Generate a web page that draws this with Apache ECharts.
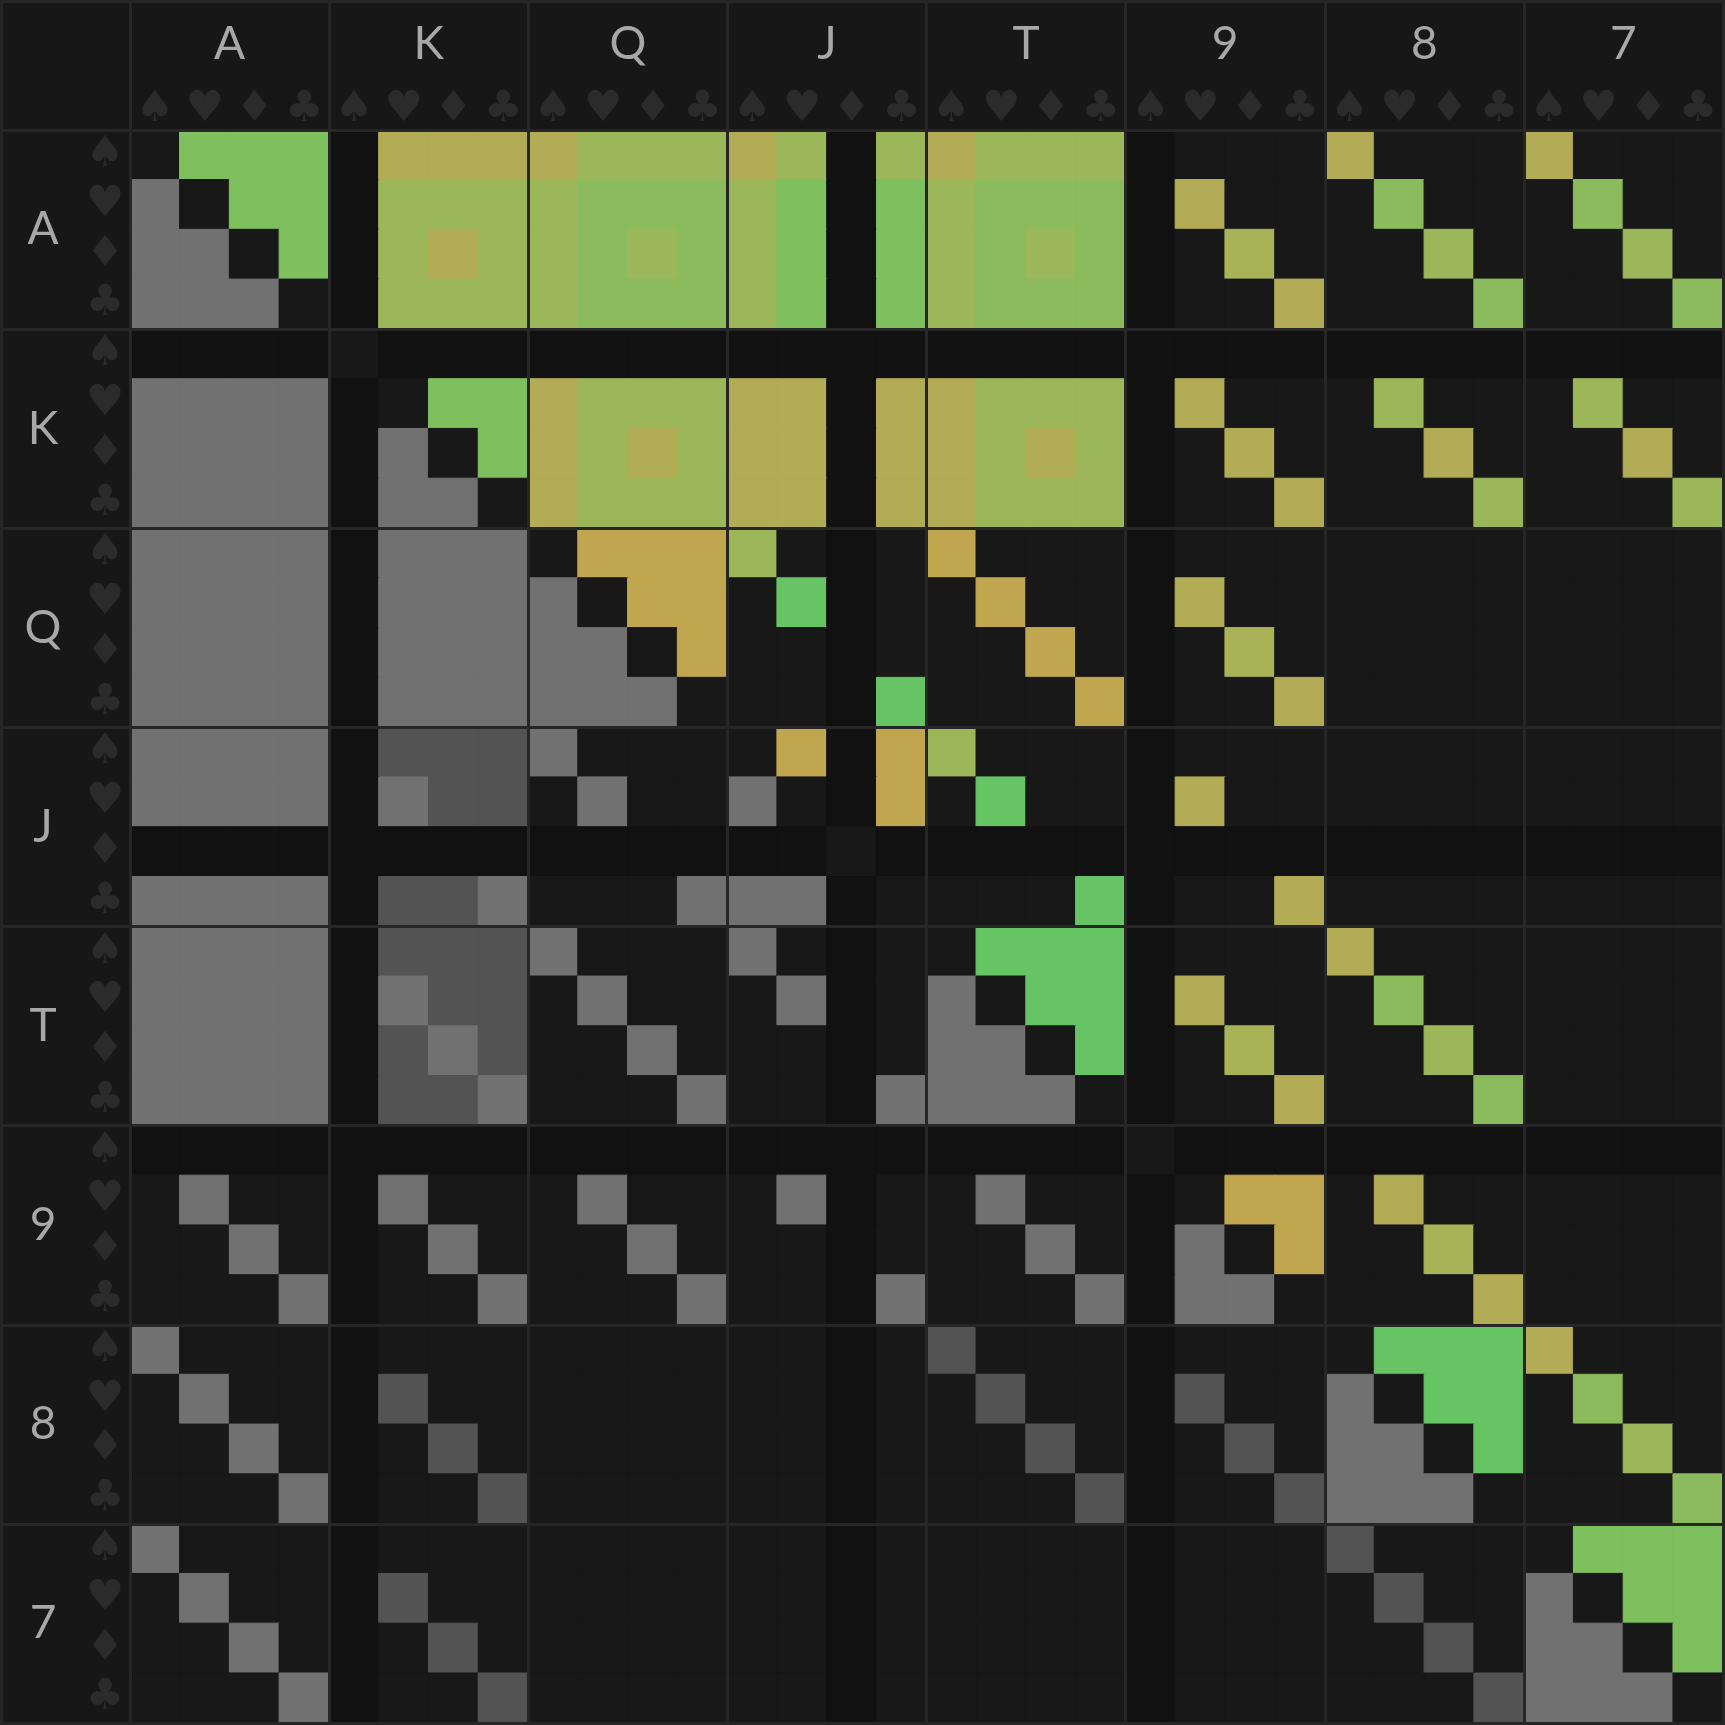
<!DOCTYPE html>
<html><head><meta charset="utf-8">
<script src="https://cdn.jsdelivr.net/npm/echarts@6/dist/echarts.min.js"></script>
<style>html,body{margin:0;padding:0;background:#171717}#chart{width:1725px;height:1725px}</style>
</head><body><div id="chart"></div>
<script>
// Axis labels
const ranks = ['A','K','Q','J','T','9','8','7'];
const suits = ['♠','♥','♦','♣'];

// Cell classes, one string per hole-card row (columns A♠..7♣, grouped by rank)
// . empty/same card, x blocked card, L grey, D dark grey, Y olive, P olive-green,
// G yellow-green, M mid green, E green, B bright green, O gold
const classKeys = ['.','x','L','D','Y','P','G','M','E','B','O'];
const rowsA = [
  '.EEE xYYY YGGG YGxG YGGG x... Y... Y...',
  'L.EE xGGG GMMM GExE GMMM xY.. .M.. .M..',
  'LL.E xGYG GMGM GExE GMGM x.P. ..G. ..G.',
  'LLL. xGGG GMMM GExE GMMM x..Y ...M ...M'
];
const rowsK = [
  'xxxx .xxx xxxx xxxx xxxx xxxx xxxx xxxx',
  'LLLL x.EE YGGG YYxY YGGG xY.. .G.. .G..',
  'LLLL xL.E YGYG YYxY YGYG x.Y. ..Y. ..Y.',
  'LLLL xLL. YGGG YYxY YGGG x..Y ...G ...G'
];
const rowsQ = [
  'LLLL xLLL .OOO G.x. O... x... .... ....',
  'LLLL xLLL L.OO .Bx. .O.. xY.. .... ....',
  'LLLL xLLL LL.O ..x. ..O. x.P. .... ....',
  'LLLL xLLL LLL. ..xB ...O x..Y .... ....'
];
const rowsJ = [
  'LLLL xDDD L... .OxO G... x... .... ....',
  'LLLL xLDD .L.. L.xO .B.. xY.. .... ....',
  'xxxx xxxx xxxx xx.x xxxx xxxx xxxx xxxx',
  'LLLL xDDL ...L LLx. ...B x..Y .... ....'
];
const rowsT = [
  'LLLL xDDD L... L.x. .BBB x... Y... ....',
  'LLLL xLDD .L.. .Lx. L.BB xY.. .M.. ....',
  'LLLL xDLD ..L. ..x. LL.B x.P. ..G. ....',
  'LLLL xDDL ...L ..xL LLL. x..Y ...M ....'
];
const rows9 = [
  'xxxx xxxx xxxx xxxx xxxx .xxx xxxx xxxx',
  '.L.. xL.. .L.. .Lx. .L.. x.OO .Y.. ....',
  '..L. x.L. ..L. ..x. ..L. xL.O ..P. ....',
  '...L x..L ...L ..xL ...L xLL. ...Y ....'
];
const rows8 = [
  'L... x... .... ..x. D... x... .BBB Y...',
  '.L.. xD.. .... ..x. .D.. xD.. L.BB .M..',
  '..L. x.D. .... ..x. ..D. x.D. LL.B ..G.',
  '...L x..D .... ..x. ...D x..D LLL. ...M'
];
const rows7 = [
  'L... x... .... ..x. .... x... D... .EEE',
  '.L.. xD.. .... ..x. .... x... .D.. L.EE',
  '..L. x.D. .... ..x. .... x... ..D. LL.E',
  '...L x..D .... ..x. .... x... ...D LLL.'
];

// Colours for each class (style)
const classColors = ['#181818','#111111','#717171','#535353','#b1ac55','#a7b356',
                     '#9bb75a','#8bbb5c','#7ebf5e','#66c465','#c0a64e'];

const allRows = [].concat(rowsA, rowsK, rowsQ, rowsJ, rowsT, rows9, rows8, rows7);
const cards = [];
ranks.forEach(r => suits.forEach(s => cards.push(r + s)));

const data = [];
allRows.forEach((row, y) => {
  const s = row.replace(/ /g, '');
  for (let x = 0; x < s.length; x++) {
    const c = classKeys.indexOf(s[x]);
    const col = classColors[c];
    data.push({value: [x, y, c], itemStyle: {color: col, borderColor: col, borderWidth: 1}});
  }
});

const lineStyle = {color: '#262626', width: 3};
const chart = echarts.init(document.getElementById('chart'), null, {renderer: 'canvas'});
chart.setOption({
  backgroundColor: '#171717',
  animation: false,
  grid: {left: 130, top: 130, right: 2, bottom: 2},
  xAxis: [
    {type: 'category', data: cards, position: 'top',
     axisLine: {show: false}, axisTick: {show: false}, splitLine: {show: false},
     axisLabel: {interval: 0, margin: 20, verticalAlign: 'middle', fontSize: 43,
                 fontFamily: 'DejaVu Sans', color: '#2b2b2b',
                 formatter: v => v.slice(1)}},
    {type: 'category', data: ranks, position: 'top', z: 5,
     axisLine: {show: true, lineStyle: lineStyle},
     axisTick: {show: true, interval: 0, length: 130, lineStyle: lineStyle},
     splitLine: {show: true, interval: 0, lineStyle: lineStyle},
     axisLabel: {interval: 0, margin: 86, verticalAlign: 'middle', fontSize: 46,
                 fontFamily: 'Lato', color: '#a8a8a8'}}
  ],
  yAxis: [
    {type: 'category', data: cards, inverse: true,
     axisLine: {show: false}, axisTick: {show: false}, splitLine: {show: false},
     axisLabel: {interval: 0, margin: 25, align: 'center', verticalAlign: 'middle', fontSize: 43,
                 padding: [9, 0, 0, 0],
                 fontFamily: 'DejaVu Sans', color: '#2b2b2b',
                 formatter: v => v.slice(1)}},
    {type: 'category', data: ranks, inverse: true, position: 'left', z: 5,
     axisLine: {show: true, lineStyle: lineStyle},
     axisTick: {show: true, interval: 0, length: 130, lineStyle: lineStyle},
     splitLine: {show: true, interval: 0, lineStyle: lineStyle},
     axisLabel: {interval: 0, margin: 87, align: 'center', verticalAlign: 'middle', fontSize: 46,
                 padding: [2, 0, 0, 0],
                 fontFamily: 'Lato', color: '#a8a8a8'}}
  ],
  series: [{
    type: 'heatmap', xAxisIndex: 0, yAxisIndex: 0, data: data,
    emphasis: {disabled: true}, progressive: 0
  }],
  graphic: [{
    type: 'rect', z: 100, silent: true,
    shape: {x: 1.5, y: 1.5, width: 1722, height: 1722},
    style: {fill: null, stroke: '#262626', lineWidth: 3}
  }]
});
</script></body></html>
